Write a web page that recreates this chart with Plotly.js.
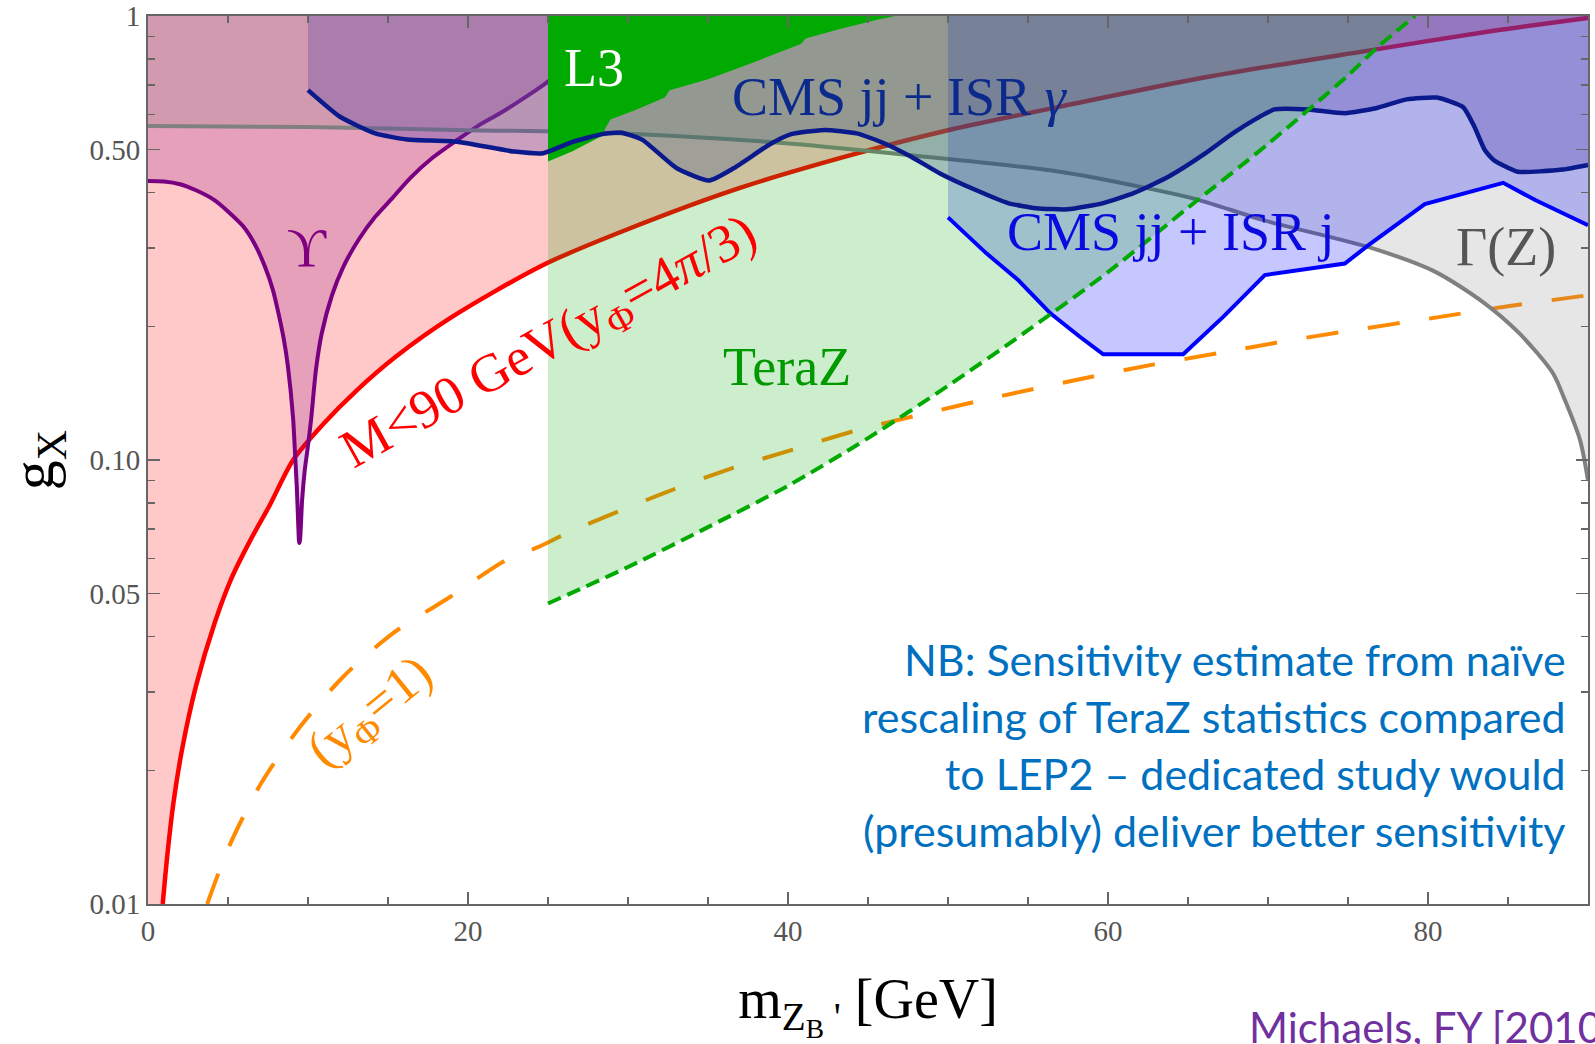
<!DOCTYPE html>
<html><head><meta charset="utf-8">
<script src="https://cdn.plot.ly/plotly-3.0.1.min.js"></script>
<style>html,body{margin:0;padding:0;background:#fff;} #chart{width:1595px;height:1044px;}</style>
</head><body><div id="chart"></div>
<script>
// ---- axis bounds ----
const X_MIN = 0, X_MAX = 90, G_MIN = 0.01, G_MAX = 1;

// ---- red: M<90 GeV (yPhi = 4pi/3) ----
const redX = [0.92, 1.2, 1.6, 2.15, 3, 4.17, 5.2, 6.4, 7.6, 9.07, 11, 13, 15.5, 19, 24.7, 29.9, 37, 44.2, 50, 57, 66, 76.75, 84, 90];
const redY = [0.01, 0.0128, 0.017, 0.0225, 0.031, 0.043, 0.054, 0.066, 0.079, 0.1, 0.121, 0.143, 0.171, 0.21, 0.275, 0.33, 0.41, 0.489, 0.553, 0.625, 0.727, 0.841, 0.925, 0.99];

// ---- orange dashed: yPhi = 1 ----
const orgX = [3.7, 5.06, 7.07, 9.52, 12.2, 15.3, 18.9, 22.4, 24.45, 26.4, 32.2, 36.2, 40.2, 44.2, 48.2, 52.2, 58.6, 62.8, 66.9, 71, 75.3, 80, 85, 90];
const orgY = [0.01, 0.01346, 0.0187, 0.0251, 0.0325, 0.0407, 0.0492, 0.0596, 0.0638, 0.069, 0.0841, 0.095, 0.1053, 0.1164, 0.1263, 0.1365, 0.153, 0.164, 0.174, 0.185, 0.196, 0.208, 0.222, 0.235];

// ---- Upsilon ----
const upsX = [0, 1, 2, 3, 4.15, 5, 5.95, 6.7, 7.3, 7.8, 8.18, 8.5, 8.74, 9.07, 9.18, 9.3, 9.4, 9.45, 9.5, 9.63, 9.8, 9.96, 10.19, 10.5, 10.86, 11.5, 12.2, 13.2, 14.2, 15.3, 16.4, 17.8, 19.3, 20.6, 22, 23.4, 24.7, 27.5, 31];
const upsY = [0.425, 0.424, 0.418, 0.405, 0.385, 0.363, 0.336, 0.305, 0.273, 0.242, 0.212, 0.186, 0.163, 0.124, 0.105, 0.087, 0.07, 0.065, 0.066, 0.081, 0.095, 0.105, 0.123, 0.16, 0.193, 0.235, 0.272, 0.315, 0.353, 0.39, 0.432, 0.48, 0.525, 0.565, 0.604, 0.65, 0.699, 0.83, 1.0];

// ---- Gamma(Z) ----
const gamX = [0, 10, 20, 28.6, 38.9, 47.8, 57, 62.5, 65.7, 69.7, 76.5, 80.4, 83.5, 85.7, 87.8, 88.5, 89.5, 90];
const gamY = [0.565, 0.562, 0.553, 0.546, 0.52, 0.485, 0.446, 0.409, 0.385, 0.347, 0.3, 0.266, 0.226, 0.193, 0.157, 0.138, 0.111, 0.09];

// ---- TeraZ (green dashed) ----
const teraX = [25, 30, 35, 40, 45, 50, 55, 60, 65, 70, 75, 77, 79.2];
const teraY = [0.0475, 0.0574, 0.0706, 0.0875, 0.112, 0.147, 0.196, 0.265, 0.37, 0.515, 0.735, 0.86, 1.0];

// ---- CMS jj + ISR gamma ----
const gamCmsX = [10, 12, 14.2, 16.2, 19.3, 22.9, 24.7, 26.5, 28.4, 29.6, 30.9, 33.05, 35.05, 36.6, 38.9, 40.2, 42.3, 44.3, 46, 47.7, 49.5, 51.7, 53.75, 55.5, 57.5, 59.7, 61.6, 63.8, 66.1, 67.8, 69.3, 70.4, 72.5, 74.8, 76.75, 78.66, 80.55, 82.2, 82.9, 83.55, 84.1, 85.6, 88.4, 90];
const gamCmsY = [0.681, 0.593, 0.544, 0.527, 0.521, 0.495, 0.491, 0.52, 0.542, 0.546, 0.526, 0.454, 0.426, 0.454, 0.515, 0.542, 0.554, 0.544, 0.517, 0.482, 0.442, 0.406, 0.379, 0.369, 0.367, 0.379, 0.399, 0.435, 0.491, 0.544, 0.588, 0.616, 0.616, 0.604, 0.62, 0.649, 0.655, 0.623, 0.563, 0.499, 0.474, 0.446, 0.451, 0.462];

// ---- CMS jj + ISR j ----
const jetX = [50, 52.4, 54.4, 56.4, 58.2, 59.7, 64.7, 67.2, 69.8, 74.8, 76.3, 79.8, 84.7, 86.7, 90];
const jetY = [0.352, 0.292, 0.254, 0.214, 0.19, 0.173, 0.173, 0.21, 0.261, 0.277, 0.305, 0.377, 0.421, 0.385, 0.338];

// ---- L3 ----
const l3X = [25, 26.5, 28.3, 28.6, 28.9, 30.5, 32.3, 32.6, 35, 38, 40.8, 41.1, 43, 45.5, 46.7];
const l3Y = [0.47, 0.495, 0.535, 0.56, 0.585, 0.615, 0.655, 0.68, 0.72, 0.79, 0.865, 0.89, 0.93, 0.98, 1.0];

// ---- ticks ----
const xTickVals = [0, 20, 40, 60, 80];
const xTickText = ['0', '20', '40', '60', '80'];
const xMinorVals = [5, 10, 15, 25, 30, 35, 45, 50, 55, 65, 70, 75, 85];
const yTickVals = [0.01, 0.05, 0.1, 0.5, 1];
const yTickText = ['0.01', '0.05', '0.10', '0.50', '1'];
const yMinorVals = [0.02, 0.03, 0.04, 0.06, 0.07, 0.08, 0.09, 0.2, 0.3, 0.4, 0.6, 0.7, 0.8, 0.9];

function ceiling(xs, ys) { // invisible boundary that a following 'tonexty' fill closes against
  return {x: xs, y: ys, type: 'scatter', mode: 'lines', line: {width: 0, color: 'rgba(0,0,0,0)'},
          hoverinfo: 'skip', showlegend: false};
}
function filledCurve(x, y, fillcolor, lineColor, width, shape, smooth) {
  return {x: x, y: y, type: 'scatter', mode: 'lines', fill: 'tonexty', fillcolor: fillcolor,
          line: {width: width, color: lineColor, shape: shape, smoothing: smooth},
          hoverinfo: 'skip', showlegend: false};
}
function curve(x, y, color, width, dash, shape, smooth) {
  return {x: x, y: y, type: 'scatter', mode: 'lines',
          line: {width: width, color: color, dash: dash || 'solid', shape: shape || 'linear', smoothing: smooth || 1},
          hoverinfo: 'skip', showlegend: false};
}

const traces = [
  // pink region above the red line
  ceiling([X_MIN, X_MIN, X_MAX], [G_MIN, G_MAX, G_MAX]),
  filledCurve(redX, redY, 'rgba(255,0,0,0.21)', '#ff0000', 4.5, 'spline', 0.8),
  curve(orgX, orgY, '#ff8a00', 4, '32px,30px', 'spline', 0.8),
  // Upsilon
  ceiling([X_MIN, upsX[upsX.length - 1]], [G_MAX, G_MAX]),
  filledCurve(upsX, upsY, 'rgba(128,0,128,0.2)', '#7a0082', 4, 'spline', 0.7),
  // Gamma(Z)
  ceiling([X_MIN, X_MAX], [G_MAX, G_MAX]),
  filledCurve(gamX, gamY, 'rgba(128,128,128,0.2)', '#808080', 4, 'spline', 0.8),
  // CMS jj + ISR j
  ceiling([jetX[0], X_MAX], [G_MAX, G_MAX]),
  filledCurve(jetX, jetY, 'rgba(0,0,255,0.22)', 'rgba(0,0,0,0)', 0, 'linear', 1),
  // CMS jj + ISR gamma
  ceiling([gamCmsX[0], X_MAX], [G_MAX, G_MAX]),
  filledCurve(gamCmsX, gamCmsY, 'rgba(80,60,170,0.3)', 'rgba(0,0,0,0)', 0, 'spline', 0.5),
  // TeraZ
  ceiling([teraX[0], teraX[teraX.length - 1]], [G_MAX, G_MAX]),
  filledCurve(teraX, teraY, 'rgba(0,170,0,0.2)', 'rgba(0,0,0,0)', 0, 'spline', 0.8),
  // L3
  {x: [l3X[0]].concat(l3X), y: [G_MAX].concat(l3Y), type: 'scatter', mode: 'lines', fill: 'toself',
   fillcolor: '#00aa00', line: {width: 0, color: '#00aa00'}, hoverinfo: 'skip', showlegend: false},
  // boundary lines on top
  curve(gamCmsX, gamCmsY, '#0a1a8c', 4.5, 'solid', 'spline', 0.5),
  curve(jetX, jetY, '#0000ff', 4),
  curve(teraX, teraY, '#00aa00', 4, '14px,7px', 'spline', 0.8)
];

const serif = 'Liberation Serif, DejaVu Serif, serif';
const sans = 'Lato, Open Sans, sans-serif';
const L = Math.log10; // log axis: annotation y is log10 of the value

function lab(text, x, y, color, size, angle) {
  return {text: text, x: x, y: L(y), xref: 'x', yref: 'y', showarrow: false,
          xanchor: 'center', yanchor: 'middle', textangle: angle || 0,
          font: {family: serif, size: size || 54, color: color}};
}

const nbLines = ['NB: Sensitivity estimate from naïve', 'rescaling of TeraZ statistics compared',
                 'to LEP2 – dedicated study would', '(presumably) deliver better sensitivity'];
const nbY = [0.2748, 0.2106, 0.1475, 0.0833];

const annotations = [
  lab('L3', 27.87, 0.762, '#ffffff'),
  lab('CMS jj + ISR <i>γ</i>', 46.97, 0.657, '#0c2a8c'),
  lab('CMS jj + ISR j', 63.95, 0.3268, '#0a0ae0'),
  lab('Γ(Z)', 84.86, 0.302, '#555555'),
  lab('ϒ', 9.93, 0.301, '#800080'),
  lab('TeraZ', 39.96, 0.1622, '#009900'),
  lab('M<90 GeV(y<sub>Φ</sub>=4<i>π</i>/3)', 25.1, 0.1834, '#ff0000', 54, -29),
  lab('(y<sub>Φ</sub>=1)', 13.95, 0.0269, '#ff8a00', 52, -39),
  {text: 'Michaels, FY [2010.00021]', x: 0.7632, y: -0.169, xref: 'paper', yref: 'paper',
   xanchor: 'left', yanchor: 'bottom', showarrow: false,
   font: {family: sans, size: 42, color: '#7030a0'}}
];
nbLines.forEach(function (t, i) {
  annotations.push({text: t, x: 0.986, y: nbY[i], xref: 'paper', yref: 'paper',
    xanchor: 'right', yanchor: 'middle', showarrow: false,
    font: {family: sans, size: 43, color: '#0070c0'}});
});

const axisCommon = {
  showline: true, linecolor: '#666666', linewidth: 2, mirror: 'ticks',
  ticks: 'inside', ticklen: 12, tickwidth: 1.5, tickcolor: '#666666',
  showgrid: false, zeroline: false, tickmode: 'array',
  tickfont: {family: serif, size: 29, color: '#555555'}
};

const layout = {
  width: 1595, height: 1044,
  margin: {l: 148, r: 7, t: 16, b: 140},
  paper_bgcolor: '#ffffff', plot_bgcolor: '#ffffff',
  showlegend: false,
  xaxis: Object.assign({}, axisCommon, {
    type: 'linear', range: [X_MIN, X_MAX], automargin: 'bottom',
    tickvals: xTickVals, ticktext: xTickText,
    minor: {tickmode: 'array', tickvals: xMinorVals, ticks: 'inside', ticklen: 7, tickwidth: 1.5, tickcolor: '#666666', showgrid: false},
    title: {text: "m<sub>Z<sub>B</sub> '</sub> [GeV]", font: {family: serif, size: 56, color: '#000000'}, standoff: 44}
  }),
  yaxis: Object.assign({}, axisCommon, {
    type: 'log', range: [L(G_MIN), L(G_MAX)], automargin: false,
    tickvals: yTickVals, ticktext: yTickText,
    minor: {tickmode: 'array', tickvals: yMinorVals, ticks: 'inside', ticklen: 7, tickwidth: 1.5, tickcolor: '#666666', showgrid: false},
    title: {text: 'g<sub>X</sub>', font: {family: serif, size: 60, color: '#000000'}}
  }),
  annotations: annotations
};

Plotly.newPlot('chart', traces, layout, {displayModeBar: false, staticPlot: true});
</script></body></html>
